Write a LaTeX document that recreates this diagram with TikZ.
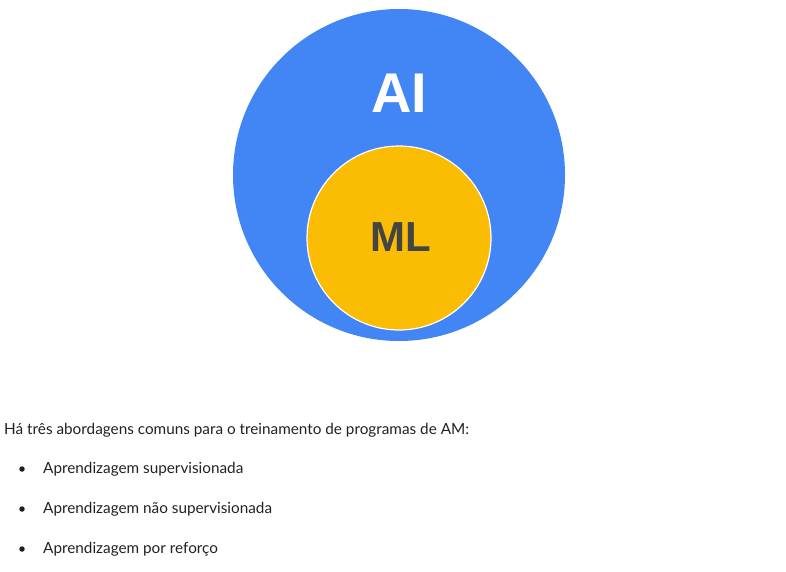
\documentclass[tikz,border=0pt]{standalone}
\usepackage{fontspec}
\setmainfont{Lato}
\newfontfamily\headfont{Liberation Sans}
\usepackage{xcolor}
\usetikzlibrary{positioning}
\definecolor{aiblue}{HTML}{4285F4}
\definecolor{mlyellow}{HTML}{FBBC04}
\definecolor{mltext}{HTML}{444444}
\definecolor{bodytext}{HTML}{202124}

\begin{document}
\begin{tikzpicture}[x=1pt,y=-1pt,
  big/.style={font=\headfont\bfseries\fontsize{56}{60}\selectfont},
  item/.style={anchor=west,inner sep=0pt,text=bodytext,font=\fontsize{15.3}{18}\selectfont},
  dot/.style={circle,fill=bodytext,inner sep=0pt,minimum size=5.5pt}]
  \useasboundingbox (0,0) rectangle (786,571);
  \node[circle,fill=aiblue,minimum size=332pt,inner sep=0pt] (ai) at (399,175) {};
  \node[circle,fill=mlyellow,draw=white,line width=1.2pt,minimum size=184pt,inner sep=0pt] (ml) at (399,238) {};
  \node[big,text=white] (ailabel) at (399,93) {AI};
  \node[big,text=mltext,font=\headfont\bfseries\fontsize{42}{46}\selectfont] (mllabel) at (401,237) {ML};
  % list below the diagram
  \node[item] (intro) at (4,430) {Há três abordagens comuns para o treinamento de programas de AM:};
  \node[dot] (b1) at (22,469) {};
  \node[item] (sup) at (43,469) {Aprendizagem supervisionada};
  \node[dot] (b2) at (22,509) {};
  \node[item] (unsup) at (43,509) {Aprendizagem não supervisionada};
  \node[dot] (b3) at (22,549) {};
  \node[item] (rein) at (43,549) {Aprendizagem por reforço};
\end{tikzpicture}
\end{document}
